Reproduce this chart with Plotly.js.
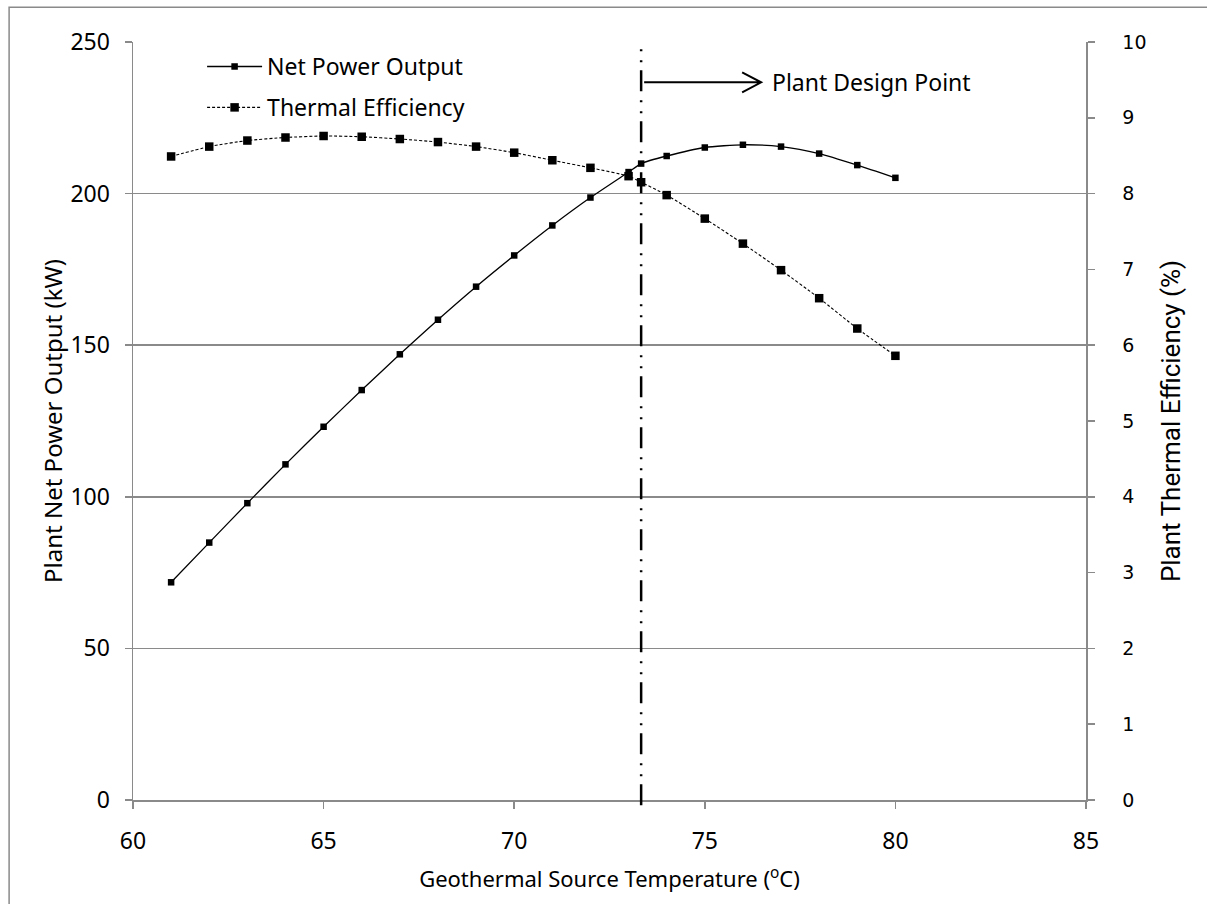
<!DOCTYPE html>
<html>
<head>
<meta charset="utf-8">
<script src="https://cdn.plot.ly/plotly-3.0.1.min.js"></script>
<style>
  html, body { margin: 0; padding: 0; background: #ffffff; }
  #chart { width: 1207px; height: 904px; }
</style>
</head>
<body>
<div id="chart"></div>
<script>
// Geothermal source temperature (°C)
const sourceTemp = [61, 62, 63, 64, 65, 66, 67, 68, 69, 70, 71, 72, 73, 73.33, 74, 75, 76, 77, 78, 79, 80];
// Plant net power output (kW)
const netPower = [71.8, 84.9, 97.9, 110.7, 123.1, 135.2, 147.0, 158.4, 169.3, 179.6, 189.5, 198.7, 207.1, 209.9, 212.4, 215.2, 216.1, 215.5, 213.2, 209.4, 205.2];
// Plant thermal efficiency (%)
const thermalEff = [8.49, 8.62, 8.70, 8.74, 8.76, 8.75, 8.72, 8.68, 8.62, 8.54, 8.44, 8.34, 8.23, 8.15, 7.98, 7.67, 7.34, 6.99, 6.62, 6.22, 5.86];
// Design point temperature (°C)
const designPoint = [73.33];
const seriesNames = ["Net Power Output", "Thermal Efficiency"];
const designLabel = "Plant Design Point";
const xTitle = "Geothermal Source Temperature (<sup>o</sup>C)";
const yTitle = "Plant Net Power Output (kW)";
const y2Title = "Plant Thermal Efficiency (%)";

const grey = "#8a8a8a";
const mainFont = "Noto Sans, Open Sans, sans-serif";
const labelLevel = 236.7;   // height (kW axis) of the design-point label

const traces = [
  {
    x: sourceTemp, y: netPower, name: seriesNames[0], type: "scatter", mode: "lines+markers",
    yaxis: "y", legendgroup: "a",
    line: { color: "#000000", width: 1.3, shape: "spline", smoothing: 0.6 },
    marker: { symbol: "square", size: 6.5, color: "#000000" }
  },
  {
    x: sourceTemp, y: thermalEff, name: seriesNames[1], type: "scatter", mode: "lines+markers",
    yaxis: "y2", legendgroup: "b",
    line: { color: "#000000", width: 1.1, dash: "3px,2px", shape: "spline", smoothing: 0.6 },
    marker: { symbol: "square", size: 8.5, color: "#000000" }
  }
];

const layout = {
  width: 1207, height: 904,
  margin: { l: 133, r: 121, t: 42, b: 104, pad: 0 },
  paper_bgcolor: "#ffffff", plot_bgcolor: "#ffffff",
  font: { family: mainFont, size: 22, color: "#000000" },
  showlegend: true,
  legend: {
    x: 0.0725, y: 0.996, xanchor: "left", yanchor: "top",
    bgcolor: "rgba(255,255,255,0)", borderwidth: 0,
    font: { family: mainFont, size: 23, color: "#000000" },
    traceorder: "grouped", tracegroupgap: 8, itemwidth: 55
  },
  xaxis: {
    range: [60, 85], dtick: 5, tick0: 60,
    ticks: "outside", ticklen: 7, tickwidth: 1.5, tickcolor: grey,
    showline: true, linecolor: grey, linewidth: 1.5,
    showgrid: false, zeroline: false,
    tickfont: { family: mainFont, size: 23, color: "#000000" },
    ticklabelstandoff: 13,
    title: { text: xTitle, font: { family: mainFont, size: 22, color: "#000000" }, standoff: 16 }
  },
  yaxis: {
    range: [0, 250], dtick: 50, tick0: 0,
    ticks: "outside", ticklen: 7, tickwidth: 1.5, tickcolor: grey,
    showline: true, linecolor: grey, linewidth: 1.5,
    showgrid: true, gridcolor: grey, gridwidth: 1.5, zeroline: false,
    tickfont: { family: mainFont, size: 23, color: "#000000" },
    ticklabelstandoff: 10,
    title: { text: yTitle, font: { family: mainFont, size: 24, color: "#000000" }, standoff: 1 }
  },
  yaxis2: {
    range: [0, 10], dtick: 1, tick0: 0, overlaying: "y", side: "right",
    ticks: "outside", ticklen: 7, tickwidth: 1.5, tickcolor: grey,
    showline: true, linecolor: grey, linewidth: 1.5,
    showgrid: false, zeroline: false,
    tickfont: { family: "DejaVu Sans, sans-serif", size: 19, color: "#000000" },
    ticklabelstandoff: 24,
    title: { text: y2Title, font: { family: "Roboto, sans-serif", size: 26, color: "#000000" }, standoff: 16 }
  },
  shapes: [
    {
      type: "line", xref: "x", yref: "paper",
      x0: designPoint[0], x1: designPoint[0], y0: -0.007, y1: 1,
      line: { color: "#000000", width: 2.5, dash: "21px,8px,2px,9px,2px,9px" }
    },
    {
      type: "path", xref: "x", yref: "y",
      xsizemode: "pixel", ysizemode: "pixel",
      xanchor: designPoint[0], yanchor: labelLevel,
      path: "M 3,0 L 120,0 M 101,-10 L 120,0 L 101,10",
      line: { color: "#000000", width: 2 }
    },
    {
      type: "path", xref: "paper", yref: "paper",
      path: "M -0.130,-0.2 L -0.130,1.046 L 1.2,1.046",
      line: { color: grey, width: 1.5 }
    }
  ],
  annotations: [
    {
      xref: "x", yref: "y", x: 76.72, y: labelLevel, xanchor: "left", yanchor: "middle",
      text: designLabel, showarrow: false,
      font: { family: mainFont, size: 23, color: "#000000" }
    }
  ]
};

Plotly.newPlot("chart", traces, layout, { displayModeBar: false, staticPlot: true });
</script>
</body>
</html>
